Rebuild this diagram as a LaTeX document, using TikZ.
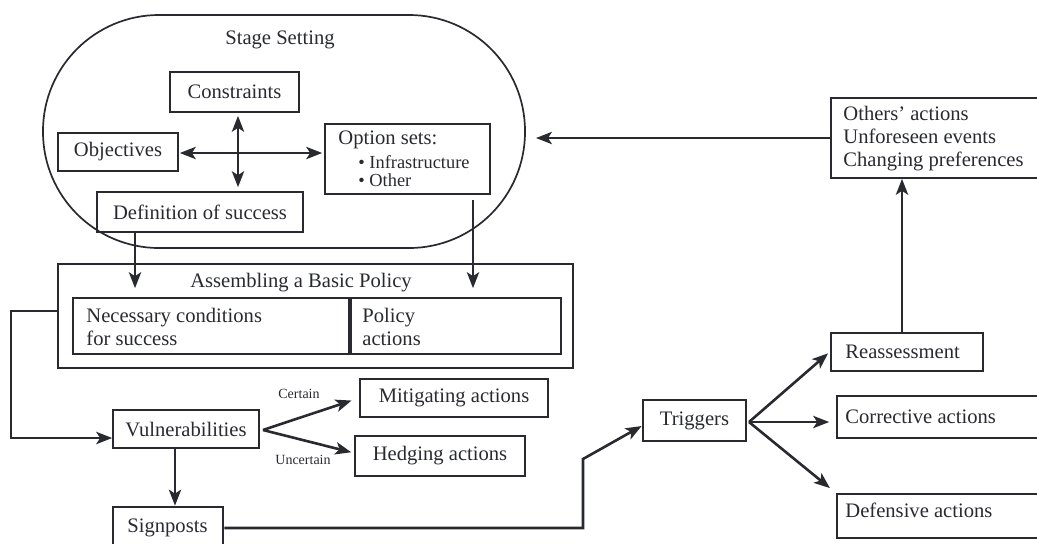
\documentclass[tikz,border=0pt]{standalone}
\usepackage{fontspec}
\setmainfont{Liberation Serif}
\usetikzlibrary{arrows.meta,fit}
\definecolor{ink}{RGB}{40,42,48}
\begin{document}
\begin{tikzpicture}[x=0.5pt,y=-0.5pt,
  every node/.style={text=ink},
  box/.style={draw=ink, line width=0.85pt, inner sep=0pt},
  tbox/.style={box, line width=1.4pt},
  ctr/.style={inner sep=0pt, font=\fontsize{10.3}{12}\selectfont},
  txt/.style={inner sep=0pt, anchor=west, align=left, font=\fontsize{10.3}{11.5}\selectfont},
  small/.style={inner sep=0pt, font=\fontsize{7}{8}\selectfont},
  arr/.style={draw=ink, line width=0.85pt, -{Stealth[length=8pt,width=6.2pt,inset=2pt]}},
  darr/.style={arr, {Stealth[length=8pt,width=6.2pt,inset=2pt]}-{Stealth[length=8pt,width=6.2pt,inset=2pt]}},
  tarr/.style={arr, line width=1.3pt}
]
\useasboundingbox (0,0) rectangle (1037,543);
\clip (0,0) rectangle (1037,543);

% Stage setting
\node[box, rounded corners=58pt, fit={(43,15)(525,248)}] (stage) {};
\node[ctr] (stagetitle) at (280,40) {Stage Setting};
\node[box, fit={(170,72)(299,112)}] (constr) {};
\node[ctr] (constrt) at (constr.center) {Constraints};
\node[box, fit={(58,133)(178,171)}] (obj) {};
\node[ctr] (objt) at (obj.center) {Objectives};
\node[box, fit={(325,124)(490,194)}] (opt) {};
\node[txt] (optt) at (338,140) {Option sets:};
\node[txt, font=\fontsize{9.2}{9}\selectfont] (optb) at (358,171) {\textbullet\ Infrastructure\\[0pt]\textbullet\ Other};
\node[box, fit={(97,192)(303,232)}] (def) {};
\node[ctr] (deft) at (def.center) {Definition of success};

\draw[darr, shorten <=1.5pt, shorten >=2pt] (constr.south -| 238,0) -- (def.north -| 238,0);
\draw[darr, shorten <=0.5pt, shorten >=1pt] (obj.east |- 0,153) -- (opt.west |- 0,153);

% Assembling
\node[box, fit={(58,264)(573,368)}] (asm) {};
\node[ctr] (asmt) at (301,283) {Assembling a Basic Policy};
\node[box, fit={(73,298)(349,354)}] (nec) {};
\node[box, fit={(351,298)(561,354)}] (pol) {};
\node[txt] (nect) at (86,327) {Necessary conditions\\for success};
\node[txt] (polt) at (362,327) {Policy\\actions};

\draw[arr, shorten >=4.5pt] (def.south -| 135,0) -- (nec.north -| 135,0);
\draw[arr, shorten <=2.5pt, shorten >=4.5pt] (opt.south -| 473,0) -- (pol.north -| 473,0);

% Vulnerabilities
\node[box, fit={(113,410)(259,448)}] (vul) {};
\node[ctr] (vult) at (vul.center) {Vulnerabilities};
\node[box, fit={(360,379)(548,417)}] (mit) {};
\node[ctr] (mitt) at (mit.center) {Mitigating actions};
\node[box, fit={(355,436)(525,476)}] (hed) {};
\node[ctr] (hedt) at (hed.center) {Hedging actions};
\node[tbox, fit={(113,507)(223,565)}] (sig) {};
\node[txt] (sigt) at (127,528) {Signposts};
\node[small] (cert) at (299,394) {Certain};
\node[small] (unc) at (303,460) {Uncertain};

\draw[arr] (asm.west |- 0,311) -- (11,311) -- (11,438) -- (vul.west |- 0,438);
\coordinate (vf) at (263,430);
\draw[tarr, shorten >=4pt] (vf) -- (mit.west);
\draw[tarr, shorten >=1.5pt] (vf) -- (hed.west |- 0,453);
\draw[arr] (vul.south -| 175,0) -- (sig.north -| 175,0);

% Triggers
\node[tbox, fit={(643,400)(746,441)}] (trig) {};
\node[ctr] (trigt) at (trig.center) {Triggers};
\node[tbox, fit={(831,333)(983,371)}] (reas) {};
\node[txt] (reast) at (845,352) {Reassessment};
\node[box, fit={(837,396)(1060,438)}] (corr) {};
\node[txt] (corrt) at (845,417) {Corrective actions};
\node[box, fit={(837,494)(1060,538)}] (defe) {};
\node[txt] (defet) at (845,510) {Defensive actions};
\node[box, fit={(831,98)(1060,178)}] (oth) {};
\node[txt, font=\fontsize{10.3}{11.3}\selectfont] (otht) at (843,138.5) {Others’ actions\\Unforeseen events\\Changing preferences};

\draw[tarr] (sig.east |- 0,528) -- (583,528) -- (583,459) -- (trig.west |- 0,426);
\coordinate (tf) at (749,422);
\draw[tarr, shorten >=1pt] (tf) -- (reas.west);
\draw[arr, shorten >=3.5pt] (tf) -- (corr.west |- tf);
\draw[tarr, shorten >=4pt] (tf) -- (defe.north west);
\draw[arr] (reas.north -| 902,0) -- (oth.south -| 902,0);
\coordinate (stageR) at (536,138);
\draw[arr] (oth.west |- 0,138) -- (stageR);
\end{tikzpicture}
\end{document}
